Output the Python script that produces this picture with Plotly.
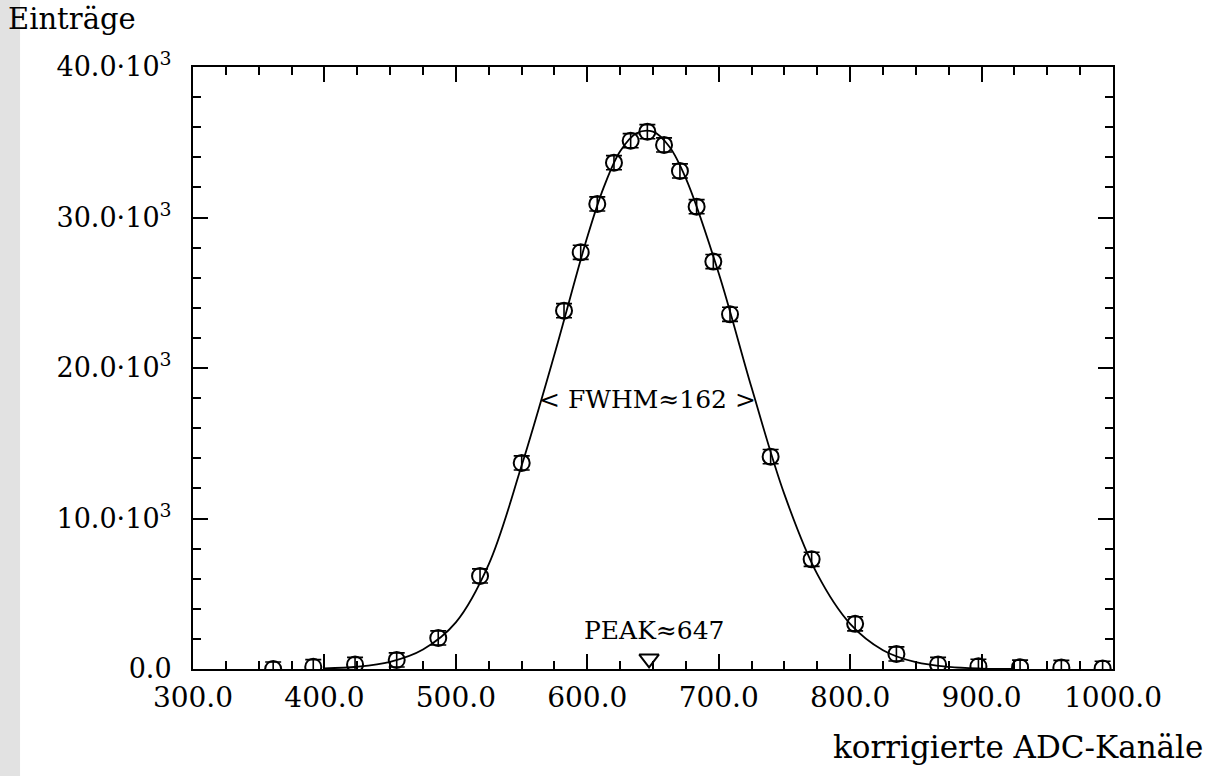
import plotly.graph_objects as go

# --- data ---
channels = [361.0, 391.5, 423.3, 455.0, 486.6, 518.4, 550.1, 582.3, 595.0, 607.6,
            620.3, 633.0, 645.7, 658.4, 670.5, 683.2, 695.9, 708.6, 739.5, 770.7,
            803.8, 835.2, 866.9, 897.6, 929.3, 960.7, 992.1]
entries = [0, 150, 300, 600, 2060, 6180, 13690, 23810, 27690, 30900,
           33640, 35100, 35700, 34820, 33090, 30720, 27070, 23570, 14110, 7290,
           3000, 1000, 300, 180, 120, 100, 40]
errors = [470] * len(channels)

fit_x = [400, 425, 450, 475, 500, 525, 550, 575, 600, 612.5, 625, 637.5, 650,
         662.5, 675, 700, 725, 750, 775, 800, 825, 850, 875, 900, 925]
fit_y = [40, 150, 480, 1300, 3100, 6950, 13500, 20900, 28700, 32000, 34400,
         35600, 35700, 34700, 32600, 26300, 18700, 11600, 6300, 3000, 1250,
         450, 140, 30, 0]

x_ticks = [300, 400, 500, 600, 700, 800, 900, 1000]
x_ticklabels = ["300.0", "400.0", "500.0", "600.0", "700.0", "800.0", "900.0", "1000.0"]
y_ticks = [0, 10000, 20000, 30000, 40000]
y_ticklabels = ["0.0", "10.0·10<sup>3</sup>", "20.0·10<sup>3</sup>",
                "30.0·10<sup>3</sup>", "40.0·10<sup>3</sup>"]

peak_pos = 647
peak_marker_y = 680
fwhm_level = 17900
fwhm_center = 646

FONT = "DejaVu Serif"

fig = go.Figure()

fig.add_trace(go.Scatter(
    x=fit_x, y=fit_y, mode="lines", line=dict(color="black", width=1.8, shape="spline"),
    hoverinfo="skip", showlegend=False))

fig.add_trace(go.Scatter(
    x=channels, y=entries, mode="markers",
    marker=dict(symbol="circle-open", size=16, color="black", line=dict(width=2)),
    error_y=dict(type="data", array=errors, visible=True, color="black", thickness=1.6, width=8),
    showlegend=False))

fig.add_trace(go.Scatter(
    x=[peak_pos], y=[peak_marker_y], mode="markers",
    marker=dict(symbol="triangle-down-open", size=17, color="black", line=dict(width=2)),
    showlegend=False, cliponaxis=False))

axis_common = dict(
    showline=True, linecolor="black", linewidth=2, mirror="ticks",
    ticks="inside", tickcolor="black", tickwidth=2, ticklen=15,
    showgrid=False, zeroline=False,
)

fig.update_xaxes(range=[300, 1000], tickmode="array", tickvals=x_ticks, ticktext=x_ticklabels,
                 minor=dict(dtick=25, tick0=300, ticks="inside", ticklen=8, tickwidth=2, tickcolor="black"),
                 ticklabelstandoff=2, tickfont=dict(family=FONT, size=28, color="black"),
                 **axis_common)
fig.update_yaxes(range=[0, 40000], tickmode="array", tickvals=y_ticks, ticktext=y_ticklabels,
                 minor=dict(dtick=2000, tick0=0, ticks="inside", ticklen=8, tickwidth=2, tickcolor="black"),
                 ticklabelstandoff=14, tickfont=dict(family=FONT, size=27, color="black"),
                 **axis_common)

fig.add_annotation(x=fwhm_center, y=fwhm_level, text="&lt; FWHM≈162 &gt;", showarrow=False,
                   font=dict(family=FONT, size=25, color="black"), xanchor="center", yanchor="middle")
fig.add_annotation(x=651, y=2550, text="PEAK≈647", showarrow=False,
                   font=dict(family=FONT, size=25, color="black"), xanchor="center", yanchor="middle")
fig.add_annotation(xref="paper", yref="paper", x=1.1, y=-0.13, text="korrigierte ADC-Kanäle",
                   showarrow=False, font=dict(family=FONT, size=31, color="black"),
                   xanchor="right", yanchor="middle")
fig.add_annotation(xref="paper", yref="paper", x=-0.203, y=1.08, text="Einträge",
                   showarrow=False, font=dict(family=FONT, size=29, color="black"),
                   xanchor="left", yanchor="middle")

fig.add_shape(type="rect", xref="paper", yref="paper", x0=-0.2098, x1=-0.188, y0=-0.18, y1=1.12,
              fillcolor="#e2e2e2", line=dict(width=0), layer="below")

fig.update_layout(
    width=1214, height=776,
    margin=dict(l=193, r=101, t=67, b=107),
    paper_bgcolor="white", plot_bgcolor="white",
    showlegend=False,
)

fig.write_html("out.html")
